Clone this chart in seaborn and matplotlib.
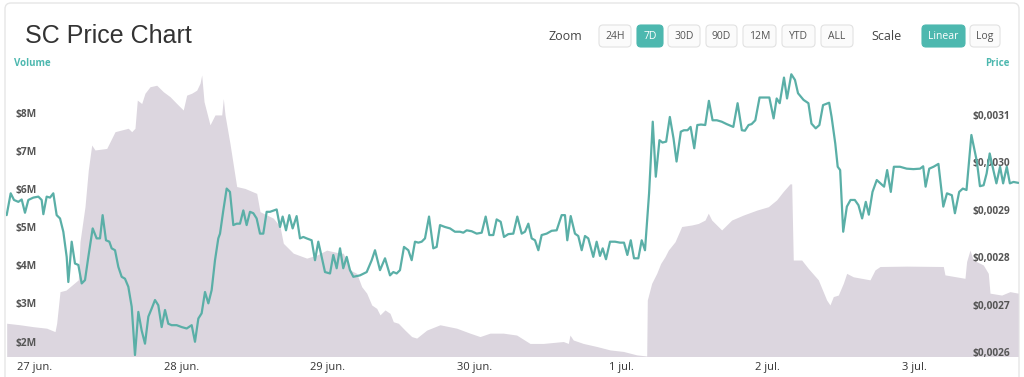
import numpy as np
import pandas as pd
import seaborn as sns
import matplotlib.pyplot as plt
from matplotlib.patches import FancyBboxPatch

# time axis: hours counted from 27 jun. 00:00
start = pd.Timestamp("2019-06-27 00:00")

price_hours = [
    -4.64, -3.98, -3.44, -2.73, -2.18, -1.64, -1.09, -0.27, 0.55, 1.09,
    1.37, 1.91, 2.46, 3.0, 3.55, 4.10, 4.64, 5.19, 5.46, 6.01,
    6.55, 7.10, 7.65, 8.19, 8.74, 9.45, 10.1, 10.65, 11.08, 11.63,
    12.18, 12.56, 13.11, 13.65, 14.2, 14.74, 15.29, 15.84, 16.38, 16.93,
    17.47, 18.02, 18.57, 19.11, 19.66, 20.2, 20.75, 21.3, 21.84, 22.39,
    23.21, 24.03, 24.85, 25.67, 26.21, 26.76, 27.3, 27.85, 28.4, 28.94,
    29.49, 30.03, 30.31, 30.85, 31.4, 31.94, 32.49, 33.04, 33.58, 34.13,
    34.67, 35.22, 35.77, 36.31, 36.86, 37.4, 37.95, 38.5, 39.59, 40.14,
    40.57, 41.12, 41.66, 42.21, 42.86, 43.41, 43.96, 44.5, 45.32, 45.87,
    46.41, 46.96, 47.51, 48.33, 48.87, 49.42, 49.97,
    50.5, 51.06, 51.6, 52.15, 53.24, 54.34, 55.16, 55.70, 56.52, 57.34,
    58.16, 58.7, 59.25, 59.79, 60.45, 61.16, 61.71, 62.25, 62.8, 63.35,
    63.89, 64.55, 65.25, 65.8, 66.35, 67.17, 67.99, 68.8, 69.62, 70.17,
    70.72, 71.54, 72.36, 73.18, 73.83, 74.43, 75.08, 75.63, 76.29, 76.83,
    77.54, 78.36, 79.01, 79.73, 80.27, 80.82, 81.37, 81.91, 82.46, 83.0,
    83.82, 84.64, 85.46, 86.28, 86.82, 87.2, 87.76, 88.46, 89.0, 89.56,
    90.1, 90.64, 91.46, 92.01, 92.56, 93.0, 93.54, 94.2, 95.02, 95.84,
    96.49, 97.04, 97.6, 98.13, 98.84, 99.39, 99.93,
    100.6, 101.2, 101.7, 102.3, 102.8, 103.4, 104.0, 104.6, 105.1, 105.8,
    106.3, 106.9, 107.4, 108.0, 108.5, 109.1, 109.8, 110.4, 111.0, 111.7,
    112.5, 113.3, 114.4, 115.1, 115.8, 116.3, 116.9, 117.4, 118.0, 118.7,
    119.5, 120.3, 121.0, 121.5, 122.0, 122.7, 123.2, 123.9, 124.5, 125.0,
    125.9, 126.7, 127.2, 127.9, 128.5, 129.1, 130.1, 130.5, 131.1, 131.5,
    131.9, 132.4, 133.0, 133.6, 134.3, 134.9, 135.5, 136.1, 136.6, 137.2,
    137.9, 138.5, 139.1, 139.6, 140.2, 140.7, 141.7, 142.8, 143.9, 145.0,
    145.5, 145.9, 146.5, 147.2, 148.0, 148.8, 149.4, 150.2, 150.7, 151.4,
    152.0, 152.6, 153.4, 154.3, 154.8, 155.4, 155.9, 156.4, 157.0, 157.5,
    158.1, 158.6, 159.2, 159.7, 160.3, 161.1,
]

price_usd = [
    0.002889, 0.002935, 0.002921, 0.002917, 0.002922, 0.002894, 0.002921, 0.002926, 0.002928, 0.002921,
    0.002891, 0.002928, 0.002926, 0.002935, 0.002889, 0.002882, 0.002854, 0.002801, 0.002748, 0.002833,
    0.002787, 0.002784, 0.002745, 0.002752, 0.002801, 0.002861, 0.002840, 0.002840, 0.002889, 0.002836,
    0.002833, 0.002819, 0.002815, 0.002780, 0.002759, 0.002755, 0.002738, 0.002696, 0.002594, 0.002685,
    0.002646, 0.002618, 0.002675, 0.002692, 0.002710, 0.002699, 0.002653, 0.002689, 0.002660, 0.002657,
    0.002657, 0.002653, 0.002650, 0.002657, 0.002622, 0.002671, 0.002682, 0.002727, 0.002703, 0.002731,
    0.002794, 0.002840, 0.002850, 0.002899, 0.002945, 0.002938, 0.002868, 0.002871, 0.002871, 0.002899,
    0.002868, 0.002896, 0.002893, 0.002882, 0.002850, 0.002850, 0.002896, 0.002896, 0.002901, 0.002864,
    0.002886, 0.002857, 0.002889, 0.002861, 0.002887, 0.002840, 0.002843, 0.002840, 0.002836, 0.002794,
    0.002833, 0.002801, 0.002769, 0.002766, 0.002805, 0.002777, 0.002819,
    0.002777, 0.002801, 0.002773, 0.002759, 0.002762, 0.002769, 0.002794, 0.002815, 0.002773, 0.002798,
    0.002762, 0.002769, 0.002766, 0.002773, 0.002822, 0.002815, 0.002794, 0.002833, 0.002831, 0.002833,
    0.002840, 0.002886, 0.002819, 0.002822, 0.002868, 0.002864, 0.002861, 0.002854, 0.002854, 0.002852,
    0.002857, 0.002855, 0.002850, 0.002852, 0.002886, 0.002847, 0.002847, 0.002880, 0.002875, 0.002843,
    0.002849, 0.002850, 0.002886, 0.002850, 0.002854, 0.002871, 0.002840, 0.002836, 0.002815, 0.002847,
    0.002850, 0.002856, 0.002857, 0.002889, 0.002889, 0.002836, 0.002887, 0.002850, 0.002845, 0.002815,
    0.002845, 0.002840, 0.002801, 0.002833, 0.002803, 0.002819, 0.002796, 0.002833, 0.002833, 0.002831,
    0.002831, 0.002805, 0.002836, 0.002798, 0.002798, 0.002836, 0.002815,
    0.002935, 0.003086, 0.002970, 0.003047, 0.003042, 0.003044, 0.003096, 0.003051, 0.003002, 0.003065,
    0.003068, 0.003068, 0.003075, 0.003030, 0.003079, 0.003080, 0.003079, 0.003130, 0.003089, 0.003089,
    0.003086, 0.003081, 0.003075, 0.003125, 0.003068, 0.003067, 0.003079, 0.003081, 0.003089, 0.003137,
    0.003137, 0.003137, 0.003093, 0.003135, 0.003125, 0.003179, 0.003135, 0.003186, 0.003174, 0.003146,
    0.003132, 0.003125, 0.003082, 0.003072, 0.003079, 0.003121, 0.003126, 0.003096, 0.003040, 0.002991,
    0.002984, 0.002854, 0.002907, 0.002921, 0.002921, 0.002910, 0.002882, 0.002917, 0.002890, 0.002938,
    0.002963, 0.002956, 0.002949, 0.002984, 0.002938, 0.002991, 0.002991, 0.002987, 0.002986, 0.002987,
    0.002992, 0.002949, 0.002987, 0.002991, 0.002997, 0.002907, 0.002935, 0.002931, 0.002893, 0.002938,
    0.002945, 0.002942, 0.003058, 0.003002, 0.002950, 0.002952, 0.002977, 0.003019, 0.002984, 0.002956,
    0.002991, 0.002956, 0.002991, 0.002956, 0.002959, 0.002957,
]

volume_hours = [
    -4.64, -2.46, -0.28, 1.92, 3.28, 3.55, 4.10, 5.08, 7.09, 7.37,
    8.19, 8.73, 9.29, 9.83, 11.75, 13.11, 15.28, 15.84, 16.38, 16.76,
    17.48, 18.02, 18.84, 19.94, 21.02, 22.12, 23.21, 24.29, 24.85, 25.67,
    26.49, 27.03, 27.31, 27.69, 28.67, 29.49, 30.59, 30.85, 31.13, 31.94,
    33.04, 34.40, 36.32, 36.86, 39.04, 40.14, 40.68, 42.31, 44.51, 46.15,
    47.79, 49.97,
    50.51, 51.60, 52.70, 53.52, 54.34, 55.16, 55.98, 56.52, 57.34, 58.16,
    58.70, 59.52, 60.61, 61.71, 62.53, 64.17, 66.35, 69.08, 71.26, 72.90,
    74.54, 76.72, 78.91, 81.09, 83.27, 86.55, 87.37, 87.64, 88.18, 89.82,
    92.02, 94.20, 96.38, 98.57, 100.21, 100.31,
    101.03, 101.85, 102.50, 103.21, 103.75, 104.85, 105.94, 107.58, 108.66, 109.76,
    110.30, 110.86, 112.49, 114.13, 116.03, 118.23, 120.13, 121.50, 122.58, 123.68,
    123.96, 124.22, 125.60, 126.68, 128.32, 129.69, 130.23, 130.78, 131.60, 132.42,
    132.97, 134.05, 136.79, 137.61, 138.43, 142.80, 148.80, 149.07, 152.35, 152.62,
    153.17, 153.71, 155.35, 156.17, 156.45, 158.36, 159.72, 161.08,
]

# 24h volume, millions of USD
volume_musd = [
    2.48, 2.44, 2.39, 2.35, 2.26, 2.48, 3.31, 3.35, 3.62, 4.62,
    5.54, 6.50, 7.16, 7.03, 7.07, 7.51, 7.60, 7.51, 7.60, 8.34,
    8.25, 8.52, 8.69, 8.73, 8.56, 8.43, 8.25, 8.08, 8.47, 8.52,
    8.60, 8.78, 9.00, 8.30, 7.69, 7.95, 7.95, 8.38, 7.95, 7.20,
    6.07, 6.02, 5.89, 5.41, 5.24, 5.02, 4.58, 4.32, 4.19, 4.27,
    4.40, 4.32,
    4.32, 3.88, 3.79, 3.44, 3.27, 2.96, 2.87, 2.70, 2.83, 2.74,
    2.52, 2.48, 2.30, 2.13, 2.09, 2.30, 2.44, 2.35, 2.22, 2.13,
    2.22, 2.22, 2.17, 1.95, 1.95, 2.00, 1.95, 2.17, 2.04, 1.95,
    1.87, 1.78, 1.74, 1.65, 1.62, 3.09,
    3.53, 3.79, 4.05, 4.23, 4.40, 4.62, 5.02, 5.06, 5.10, 5.19,
    5.37, 5.19, 4.93, 5.19, 5.32, 5.45, 5.54, 5.72, 5.94, 6.14,
    6.14, 4.14, 4.14, 3.92, 3.62, 3.09, 2.96, 3.18, 3.22, 3.53,
    3.79, 3.70, 3.62, 3.88, 3.97, 3.98, 3.97, 3.75, 3.66, 4.10,
    4.40, 4.14, 4.01, 3.79, 3.27, 3.22, 3.31, 3.27,
]

day_labels = ["27 jun.", "28 jun.", "29 jun.", "30 jun.", "1 jul.", "2 jul.", "3 jul."]
volume_ticks = [2, 3, 4, 5, 6, 7, 8]
volume_tick_labels = ["$2M", "$3M", "$4M", "$5M", "$6M", "$7M", "$8M"]
price_ticks = [0.0026, 0.0027, 0.0028, 0.0029, 0.0030, 0.0031]
price_tick_labels = ["$0,0026", "$0,0027", "$0,0028", "$0,0029", "$0,0030", "$0,0031"]
zoom_buttons = ["24H", "7D", "30D", "90D", "12M", "YTD", "ALL"]
scale_buttons = ["Linear", "Log"]

TEAL = "#4db8af"
LINE = "#5aafa7"
AREA = "#dcd6df"

sns.set_style("white")
plt.rcParams["font.family"] = ["Open Sans", "DejaVu Sans"]

price_df = pd.DataFrame({"time": start + pd.to_timedelta(price_hours, unit="h"),
                         "price": price_usd})
vol_df = pd.DataFrame({"time": start + pd.to_timedelta(volume_hours, unit="h"),
                       "volume": volume_musd})

W, H = 1024, 377
fig = plt.figure(figsize=(W / 100, H / 100), dpi=100)

# page layer in pixel units (title, buttons, frame)
page = fig.add_axes([0, 0, 1, 1], zorder=0)
page.set_xlim(0, W)
page.set_ylim(H, 0)
page.axis("off")
page.add_patch(FancyBboxPatch((5, 3), 1014, 400, boxstyle="round,pad=0,rounding_size=6",
                              fc="white", ec="#e6e6e6", lw=1))
page.text(25, 36, "SC Price Chart", fontsize=18, color="#333333", va="center",
          family=["Liberation Sans", "DejaVu Sans"])
page.text(565, 36, "Zoom", fontsize=9, color="#444444", ha="center", va="center")
page.text(887, 36, "Scale", fontsize=9, color="#444444", ha="center", va="center")


def button(x0, x1, label, active):
    page.add_patch(FancyBboxPatch((x0, 25), x1 - x0, 22, boxstyle="round,pad=0,rounding_size=4",
                                  fc=TEAL if active else "#fbfbfb",
                                  ec=TEAL if active else "#e2e2e2", lw=0.8))
    page.text((x0 + x1) / 2, 36.5, label, fontsize=7.5, ha="center", va="center",
              color="white" if active else "#555555")


zoom_edges = [(599, 631), (637, 663), (668, 700), (706, 737), (743, 776), (782, 815), (821, 853)]
for (x0, x1), lab in zip(zoom_edges, zoom_buttons):
    button(x0, x1, lab, lab == "7D")
for (x0, x1), lab in zip([(922, 965), (970, 1000)], scale_buttons):
    button(x0, x1, lab, lab == "Linear")

page.text(14, 63, "Volume", fontsize=7, color=TEAL, weight="bold", va="center")
page.text(1010, 63, "Price", fontsize=7, color=TEAL, weight="bold", va="center", ha="right")

# chart
x0, x1, ytop, ybot = 6, 1019, 70, 356
ax = fig.add_axes([x0 / W, (H - ybot) / H, (x1 - x0) / W, (ybot - ytop) / H], zorder=1)
ax.set_facecolor("none")
ax.set_axisbelow(False)
ax.fill_between(vol_df["time"], vol_df["volume"], 0, color=AREA, lw=0, zorder=0.5)
ax.set_ylim(1.62, 9.13)
ax.set_xlim(start - pd.Timedelta(hours=4.75), start + pd.Timedelta(hours=161.2))

axp = ax.twinx()
axp.set_zorder(2)
sns.lineplot(data=price_df, x="time", y="price", ax=axp, color=LINE, lw=1.6)
axp.set_ylim(0.002592, 0.003195)
axp.set_xlim(ax.get_xlim())

ax.set_xticks([start + pd.Timedelta(days=i) for i in range(len(day_labels))])
ax.set_xticklabels(day_labels, fontsize=8, color="#333333")
ax.tick_params(axis="x", length=0, pad=4)

ax.set_yticks(volume_ticks)
ax.set_yticklabels(volume_tick_labels, ha="left", fontsize=7.3, color="#555555", weight="bold")
ax.tick_params(axis="y", length=0, pad=-6.5)

axp.set_yticks(price_ticks)
axp.set_yticklabels(price_tick_labels, ha="right", fontsize=7.3, color="#555555", weight="bold")
axp.tick_params(axis="y", length=0, pad=-6.5)

for a in (ax, axp):
    a.set_xlabel("")
    a.set_ylabel("")
    for s in a.spines.values():
        s.set_visible(False)

fig.savefig("out.png", dpi=100)
